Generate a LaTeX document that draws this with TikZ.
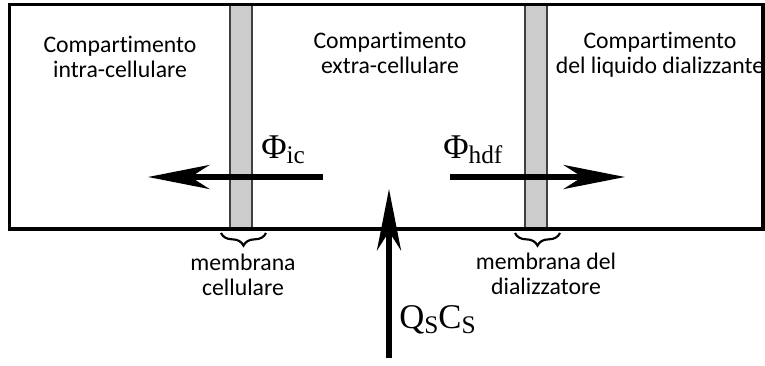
\documentclass[tikz,border=0pt]{standalone}
\usepackage{fontspec}
\setmainfont{Carlito}[Ligatures=NoCommon]
\newfontfamily\serifmath{Liberation Serif}
\usetikzlibrary{arrows.meta,positioning,decorations.pathreplacing}
\newcommand{\fluxlbl}[2]{{\serifmath\fontsize{26}{26}\selectfont #1\raisebox{-3.5pt}{\fontsize{19}{19}\selectfont #2}}}

\begin{document}
\begin{tikzpicture}[
    x=0.75pt,y=-0.75pt,
    txt/.style={align=center,inner sep=0pt,font=\fontsize{17.8}{18.4}\selectfont},
    membr/.style={draw=black!75,fill=black!20,line width=1pt},
    flow/.style={line width=4.5pt,-{Stealth[length=46pt,width=18pt,inset=14pt]}},
    brc/.style={decorate,decoration={brace,mirror,amplitude=9.5pt},line width=1.6pt}
  ]
  \useasboundingbox (0,0) rectangle (765,366);
  % membranes
  \draw[membr] (230,4) rectangle (252,229);
  \draw[membr] (525,4) rectangle (547,229);
  % compartments
  \draw[line width=2.3pt] (9.5,4.5) rectangle (763,229);
  \node[txt] (intra) at (120,57) {Compartimento\\intra-cellulare};
  \node[txt] (extra) at (390,53) {Compartimento\\extra-cellulare};
  \node[txt] (dial)  at (660,55) {Compartimento\\del liquido dializzante};
  % fluxes
  \coordinate (icS) at (323,177);  \coordinate (icE) at (148,177);
  \coordinate (hdS) at (450,177);  \coordinate (hdE) at (625,177);
  \coordinate (qsS) at (389,358);  \coordinate (qsE) at (389,189);
  \draw[flow] (icS) -- (icE);
  \draw[flow] (hdS) -- (hdE);
  \draw[flow] (qsS) -- (qsE);
  \node[anchor=base west,inner sep=0pt] (phiic) at (261,159) {\fluxlbl{Φ}{ic}};
  \node[anchor=base west,inner sep=0pt] (phihd) at (443,159) {\fluxlbl{Φ}{hdf}};
  \node[anchor=base west,inner sep=0pt] (qscs)  at (399,329) {\fluxlbl{Q}{S}\fluxlbl{C}{S}};
  % braces
  \foreach \a/\b/\n in {221/266/mc,515/560/md}{
    \draw[brc] (\a,233) -- (\b,233) coordinate (\n);
  }
  \node[txt] (mcell) at (243,275) {membrana\\cellulare};
  \node[txt] (mdial) at (546,274) {membrana del\\dializzatore};
\end{tikzpicture}
\end{document}
